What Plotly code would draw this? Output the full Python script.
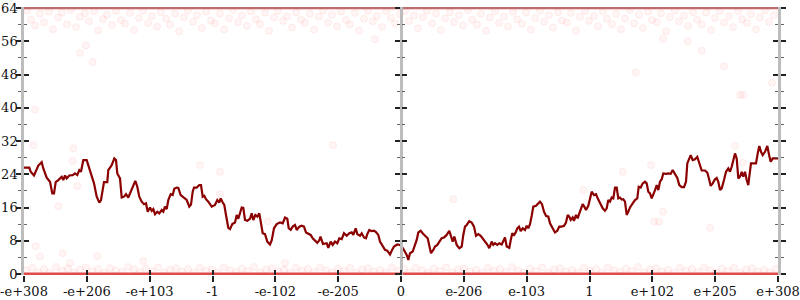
import plotly.graph_objects as go

# ---- data -------------------------------------------------------------
x_tick_labels = ["-e+308", "-e+206", "-e+103", "-1", "-e-102", "-e-205", "0",
                 "e-206", "e-103", "1", "e+102", "e+205", "e+308"]
x_tick_vals = [-377, -314.17, -251.33, -188.5, -125.67, -62.83, 0,
               62.83, 125.67, 188.5, 251.33, 314.17, 377]

line_x = [-377, -371.7, -370.3, -367, -362.7, -359.3, -357.7, -354.3, -351, -348.7, -347, -345.3,
          -342.7, -339.3, -337.7, -336, -334.3, -331.7, -328.3, -326, -323.7, -321.7, -320, -317.7,
          -314.3, -312.7, -310.3, -307, -304.3, -301.7, -300, -298.3, -297, -293.7, -292.7, -289.3,
          -286.7, -285, -283.7, -281, -279.3, -277, -275, -272.7, -270.3, -268.3, -265.7, -263.7,
          -261.7, -259.3, -257, -255, -253.3, -251, -249.3, -247.7, -246, -243.7, -241.7, -239.3,
          -237.7, -236, -234.3, -232.7, -230.3, -228.3, -226.7, -224.3, -222.7, -220.3, -217, -214.3,
          -211.7, -210, -208.3, -207, -204.3, -201.7, -200, -198.3, -196.7, -195, -192.7, -189.3,
          -186, -183.7, -181.7, -180.3, -178.3, -176.7, -175, -172.7, -171, -168.7, -166, -164.3,
          -162.7, -161, -159.3, -157.7, -156, -153.7, -151, -149.3, -147.7, -145.7, -143.7, -141.7,
          -140, -138.3, -136, -133.7, -131, -129.3, -127, -124.3, -121, -118.3, -116, -113.7,
          -112.3, -110.3, -108.3, -106, -104.3, -101.7, -99.3, -97, -95, -92.7, -90.3, -88.3,
          -86, -83.7, -81.7, -80.5, -78, -74.3, -72.7, -70.3, -68.3, -66, -63.7, -61.7,
          -59.3, -57, -54.3, -51.7, -49.3, -47.7, -45.3, -43.7, -41, -39.3, -37, -35,
          -33.7, -31.7, -29.3, -27, -25, -22.7, -21, -18.3, -16, -13.7, -11, -9.3,
          -7, -3.7, -1, 1.7, 4, 5.7, 7.3, 9, 11.7, 14, 15.7, 17.3,
          19.7, 22.3, 25, 26.7, 28.3, 30, 32.3, 34, 36.3, 38.3, 40.7, 43,
          45.7, 48.3, 50, 51.7, 53.3, 55.7, 58.3, 60.7, 62.3, 64, 65.7, 68.3,
          70.7, 73, 75, 77.3, 79.7, 81.7, 84, 86.3, 88.3, 90.7, 92.3, 94,
          96.3, 98.3, 100.7, 102.3, 104, 105.7, 108.3, 109.7, 111.3, 113, 114.7, 116.3,
          118, 119.7, 121.7, 124, 125.7, 127.3, 129, 130.7, 132.3, 135, 137.3, 139,
          141, 143, 145, 147.3, 149, 151.7, 154, 156.3, 158.3, 160.7, 163, 165,
          166.7, 168.3, 169.7, 171.7, 173, 175, 176.7, 178.3, 180, 181.7, 183.3, 185,
          187.3, 189, 190.7, 193, 195, 196.7, 199, 201.7, 204, 205.7, 207.3, 209,
          210.7, 212.3, 214, 215.7, 217.3, 219, 220.7, 222.3, 224, 225.7, 227.3, 229,
          231.7, 234, 236.3, 237.7, 239.7, 241.7, 244, 245.7, 247.3, 249, 250.7, 252.3,
          254, 255.7, 257.3, 259, 260.7, 262.3, 265, 267.3, 269.7, 271.7, 274, 276.3,
          278.3, 280.7, 283, 285, 286.3, 288.3, 289.7, 291.7, 294, 296.3, 298.3, 300.7,
          304, 306.3, 308.3, 309.7, 311.7, 314, 315.7, 317.3, 319, 320.7, 323, 325,
          327.3, 329, 330.7, 332.3, 334, 335.7, 337.3, 339, 340.7, 342.3, 344, 345.7,
          347.3, 348.3, 350, 352.3, 355, 356.7, 358.3, 360, 361.7, 364, 366.3, 368.3,
          369.7, 371.7, 374, 377]
line_y = [25.6, 25.6, 24.6, 23.7, 26.1, 26.9, 25.4, 23.2, 22.2, 19.4, 19.4, 22.1,
          22.6, 23.4, 22.6, 23.7, 23.0, 23.7, 23.8, 24.2, 23.8, 25.0, 24.6, 27.4,
          27.4, 26.1, 24.6, 21.8, 18.6, 17.2, 17.8, 20.6, 22.1, 22.1, 25.0, 26.2,
          27.8, 27.4, 24.2, 23.0, 18.4, 18.6, 19.2, 18.4, 19.8, 21.0, 22.4, 21.0,
          18.6, 17.4, 16.8, 17.0, 15.0, 16.0, 15.2, 15.6, 14.4, 15.0, 14.6, 15.4,
          15.0, 16.2, 15.6, 17.8, 19.2, 19.0, 20.5, 20.8, 20.7, 19.0, 18.4, 17.8,
          16.2, 16.7, 19.8, 20.8, 20.8, 21.4, 21.4, 18.6, 18.8, 18.0, 17.4, 16.2,
          16.6, 17.8, 17.2, 18.2, 17.2, 16.6, 14.2, 11.1, 10.8, 12.0, 12.4, 14.2,
          13.3, 14.6, 16.0, 15.9, 13.0, 12.8, 13.3, 14.6, 13.0, 14.2, 13.8, 14.6,
          12.6, 9.8, 9.6, 7.8, 7.1, 8.1, 11.0, 12.0, 12.4, 12.2, 13.6, 13.3,
          11.0, 10.6, 11.4, 11.8, 10.6, 11.4, 11.6, 11.4, 10.0, 9.6, 9.4, 8.6,
          8.1, 7.5, 8.1, 9.0, 7.2, 7.4, 6.3, 7.8, 7.0, 7.8, 7.4, 8.6,
          8.4, 9.8, 9.2, 9.8, 10.0, 9.4, 11.0, 9.6, 9.2, 9.8, 8.8, 8.6,
          9.6, 10.6, 10.3, 10.4, 10.1, 9.4, 7.8, 6.6, 5.8, 5.6, 4.7, 5.6,
          6.6, 7.1, 7.0, 6.3, 5.4, 4.6, 3.4, 5.0, 5.4, 7.0, 8.2, 10.0,
          10.4, 9.6, 9.0, 8.6, 6.8, 5.0, 5.8, 6.6, 7.0, 7.8, 8.6, 8.8,
          9.4, 10.4, 9.0, 7.8, 9.0, 7.0, 6.2, 6.6, 9.4, 11.4, 11.8, 12.7,
          12.4, 11.4, 9.2, 9.6, 9.2, 8.6, 7.8, 7.1, 6.2, 7.8, 7.0, 7.4,
          7.0, 7.4, 7.1, 7.8, 8.8, 6.6, 6.3, 8.1, 9.8, 9.4, 10.0, 11.0,
          11.4, 10.3, 11.0, 10.6, 11.6, 11.0, 12.0, 14.0, 16.2, 16.4, 17.0, 17.4,
          16.8, 15.0, 14.0, 13.8, 12.2, 11.0, 10.0, 10.4, 11.4, 11.4, 11.6, 12.4,
          14.2, 13.8, 13.0, 13.6, 12.8, 14.2, 13.4, 14.6, 15.8, 16.8, 16.2, 15.4,
          16.4, 18.2, 19.8, 19.0, 19.2, 18.2, 17.0, 15.8, 15.2, 15.8, 17.8, 17.4,
          18.4, 18.2, 20.8, 20.8, 18.2, 18.4, 17.9, 18.0, 17.4, 14.2, 15.0, 16.0,
          17.0, 17.8, 18.2, 21.0, 20.8, 21.8, 22.2, 21.8, 19.8, 19.4, 18.2, 19.0,
          20.2, 21.4, 20.2, 22.2, 22.8, 24.2, 24.1, 24.2, 24.1, 25.0, 23.9, 23.1,
          21.4, 20.9, 20.9, 22.2, 26.6, 27.8, 28.6, 27.4, 27.6, 28.2, 26.6, 24.9,
          24.9, 24.4, 22.6, 21.2, 21.8, 22.8, 23.1, 22.2, 20.2, 20.6, 22.6, 24.6,
          25.4, 24.6, 25.8, 27.8, 29.0, 27.8, 23.0, 23.4, 24.6, 23.4, 24.6, 22.6,
          21.4, 23.4, 26.6, 26.6, 26.6, 29.0, 30.8, 29.4, 28.6, 29.4, 30.8, 28.4,
          27.0, 27.8, 27.8, 27.8]

dots_top_x = [-374, -370, -366, -361, -357, -352, -348, -343, -339, -334, -330, -325, -321, -316,
              -312, -307, -303, -298, -294, -289, -285, -280, -276, -271, -267, -262, -258, -253,
              -249, -244, -240, -235, -231, -226, -222, -217, -213, -208, -204, -199, -195, -190,
              -186, -181, -177, -172, -168, -163, -159, -154, -150, -145, -141, -136, -132, -127,
              -123, -118, -114, -109, -105, -100, -96, -91, -87, -82, -78, -73, -69, -64, -60,
              -55, -51, -46, -42, -37, -33, -28, -24, -19, -15, -10, -6, -1,
              4, 8, 13, 17, 22, 26, 31, 35, 40, 44, 49, 53, 58, 62, 67, 71, 76, 80, 85, 89, 94,
              98, 103, 107, 112, 116, 121, 125, 130, 134, 139, 143, 148, 152, 157, 161, 166, 170,
              175, 179, 184, 188, 193, 197, 202, 206, 211, 215, 220, 224, 229, 233, 238, 242, 247,
              251, 256, 260, 265, 269, 274, 278, 283, 287, 292, 296, 301, 305, 310, 314, 319, 323,
              328, 332, 337, 341, 346, 350, 355, 359, 364, 368, 373]
dots_top_y = [63.4, 61.2, 59.8, 62.6, 60.5, 63.1, 58.9, 61.7, 62.9, 60.1, 63.5, 59.4, 61.9, 62.7,
              60.8, 63.2, 58.6, 61.3, 62.4, 59.9, 63.3, 61.1, 60.2, 62.8, 58.7, 61.6, 63.4, 60.4,
              62.1, 59.5, 63.0, 61.4, 60.0, 62.6, 58.4, 61.8, 63.4, 60.7, 62.3, 59.2, 63.1, 61.0,
              60.3, 62.7, 58.9, 61.5, 63.5, 60.6, 62.2, 59.7, 63.2, 61.3, 60.1, 62.9, 58.5, 61.7,
              63.3, 60.9, 62.0, 59.3, 63.0, 61.2, 60.4, 62.6, 58.8, 61.9, 63.4, 60.5, 62.4, 59.6, 63.1,
              61.1, 60.0, 62.8, 58.6, 61.4, 63.3, 60.8, 62.1, 59.4, 63.2, 61.6, 60.2, 62.5,
              63.3, 60.9, 62.2, 59.1, 61.8, 63.4, 60.3, 62.7, 58.7, 61.5, 63.0, 60.6, 62.3, 59.8, 63.5,
              61.2, 60.0, 62.6, 58.5, 61.7, 63.2, 60.4, 62.0, 59.5, 63.1, 61.3, 60.2, 62.9, 58.8,
              61.6, 63.4, 60.7, 62.3, 59.3, 63.0, 61.0, 60.5, 62.8, 58.6, 61.9, 63.3, 60.9, 62.1,
              59.6, 63.2, 61.4, 60.1, 62.6, 58.9, 61.5, 63.5, 60.3, 62.4, 59.2, 63.1, 61.1, 60.6,
              62.7, 58.4, 61.8, 63.4, 60.8, 62.2, 59.7, 63.0, 61.2, 60.0, 62.9, 58.7, 61.6, 63.3,
              60.5, 62.0, 59.4, 63.2, 61.3, 60.4, 62.5, 58.9, 61.7, 63.4, 60.7, 62.3]

dots_bottom_x = [-375, -369, -363, -357, -351, -345, -339, -333, -327, -321, -315, -309, -303, -297,
                 -291, -285, -279, -273, -267, -261, -255, -249, -243, -237, -231, -225, -219, -213,
                 -207, -201, -195, -189, -183, -177, -171, -165, -159, -153, -147, -141, -135, -129,
                 -123, -117, -111, -105, -99, -93, -87, -81, -75, -69, -63, -57, -51, -45, -39, -33,
                 -27, -21, -15, -9, -3,
                 3, 9, 15, 21, 27, 33, 39, 45, 51, 57, 63, 69, 75, 81, 87, 93, 99, 105, 111, 117,
                 123, 129, 135, 141, 147, 153, 159, 165, 171, 177, 183, 189, 195, 201, 207, 213, 219,
                 225, 231, 237, 243, 249, 255, 261, 267, 273, 279, 285, 291, 297, 303, 309, 315, 321,
                 327, 333, 339, 345, 351, 357, 363, 369, 375]
dots_bottom_y = [0.9, 1.5, 0.5, 1.2, 0.3, 1.7, 0.8, 1.3, 0.4, 1.0, 1.6, 0.6, 1.2, 0.3,
                 1.4, 0.9, 0.5, 1.7, 1.1, 0.4, 1.3, 0.7, 1.6, 0.3, 1.0, 1.4, 0.6, 1.2,
                 0.4, 1.5, 0.8, 1.1, 0.3, 1.6, 0.9, 0.5, 1.3, 0.7, 1.7, 0.4, 1.1, 1.4,
                 0.6, 1.0, 0.3, 1.5, 0.8, 1.2, 0.5, 1.6, 0.9, 0.4, 1.3, 0.7, 1.5, 0.3, 1.1, 1.4,
                 0.6, 1.0, 0.4, 1.6, 0.8,
                 1.2, 0.5, 1.5, 0.9, 0.3, 1.3, 0.7, 1.6, 0.4, 1.1, 1.4, 0.6, 1.0, 0.3, 1.5, 0.8,
                 1.2, 0.5, 1.7, 0.9, 0.4, 1.3, 0.7, 1.6, 0.3, 1.1, 1.4, 0.6, 1.0, 0.4, 1.5, 0.8,
                 1.2, 0.3, 1.6, 0.9, 0.5, 1.3, 0.7, 1.7, 0.4, 1.1, 1.4, 0.6, 1.0, 0.3, 1.5, 0.8,
                 1.2, 0.5, 1.6, 0.9, 0.4, 1.3, 0.7, 1.5, 0.3, 1.1, 1.4, 0.6, 1.0, 0.4, 1.3]

dots_other_x = [-365.3, -361, -342.7, -338.3, -331, -303.5, -257.8, 262, 253, 258, 309, 221.7,
                250, 334, 341.7, -366, -367.7, -327.7, -328.3, -323.7, -201, -181, -181,
                -133.3, -116, -68, 52.3, 182.3, -321, -308.3, -315, 234.7, 323, 300.7,
                371, 339, 342, 286.7, 262, -26]
dots_other_y = [6.7, 4.2, 16.3, 5.0, 2.6, 4.3, 3.1, 15.0, 12.6, 12.6, 11.1, 24.6,
                26.2, 30.8, 26.8, 39.6, 31.0, 30.2, 27.2, 21.2, 26.2, 24.6, 19.2,
                12.7, 2.6, 31.0, 18.0, 20.2, 53.2, 51.0, 55.0, 48.5, 50.0, 53.7,
                46.0, 43.1, 43.1, 56.0, 56.6, 56.5]

floor_value = [0, 0]
ceiling_value = [64, 64]
x_ends = [-377, 377]

# ---- figure -----------------------------------------------------------
FONT = dict(family="DejaVu Serif", size=13, color="#111")
YR = [-0.24, 64.24]
XR = [-377, 377]
dot_marker = dict(size=7, color="rgba(255,30,30,0.045)",
                  line=dict(color="rgba(255,30,30,0.065)", width=1))

fig = go.Figure()
fig.add_trace(go.Scatter(x=dots_top_x, y=dots_top_y, mode="markers", marker=dot_marker,
                         showlegend=False, hoverinfo="skip"))
fig.add_trace(go.Scatter(x=dots_bottom_x, y=dots_bottom_y, mode="markers", marker=dot_marker,
                         showlegend=False, hoverinfo="skip"))
fig.add_trace(go.Scatter(x=dots_other_x, y=dots_other_y, mode="markers", marker=dot_marker,
                         showlegend=False, hoverinfo="skip"))
fig.add_trace(go.Scatter(x=x_ends, y=ceiling_value, mode="lines",
                         line=dict(color="rgba(150,120,120,0.9)", width=2),
                         showlegend=False, hoverinfo="skip"))
fig.add_trace(go.Scatter(x=x_ends, y=ceiling_value, mode="lines",
                         line=dict(color="rgba(235,70,70,0.35)", width=3.5),
                         showlegend=False, hoverinfo="skip"))
fig.add_trace(go.Scatter(x=x_ends, y=floor_value, mode="lines",
                         line=dict(color="rgba(220,55,55,0.9)", width=3),
                         showlegend=False, hoverinfo="skip"))
fig.add_trace(go.Scatter(x=line_x, y=line_y, mode="lines",
                         line=dict(color="#8b0000", width=2.2),
                         showlegend=False, hoverinfo="skip"))

major_tick = dict(tickmode="linear", tick0=0, dtick=8, tickwidth=1.5, tickcolor="#222")
minor = dict(tickmode="linear", tick0=0, dtick=4, tickwidth=1, tickcolor="#666", ticklen=3)
axline = dict(showline=True, linecolor="#bdbdbd", linewidth=2.5)
common_y = dict(range=YR, showgrid=False, zeroline=False, fixedrange=True, automargin=False)

fig.update_layout(
    width=800, height=300,
    margin=dict(l=24, r=22, t=7, b=25, autoexpand=False),
    paper_bgcolor="white", plot_bgcolor="white",
    font=FONT,
    xaxis=dict(range=XR, tickmode="array", tickvals=x_tick_vals, ticktext=x_tick_labels,
               ticks="outside", ticklen=6, tickwidth=1.5, tickcolor="#222", automargin=False,
               showline=False, showgrid=False, zeroline=False, tickfont=FONT,
               ticklabelstandoff=-2),
    xaxis2=dict(range=XR, overlaying="x", anchor="y", side="bottom", tickmode="array",
                tickvals=x_tick_vals, ticks="inside", ticklen=5, tickwidth=1.5,
                tickcolor="#222", showticklabels=False, showline=False, showgrid=False,
                zeroline=False, automargin=False),
    yaxis=dict(**common_y, **major_tick, **axline, ticks="outside", ticklen=5,
               minor=dict(**minor, ticks="outside"), tickfont=FONT, ticklabelstandoff=-4),
    yaxis2=dict(**common_y, **major_tick, overlaying="y", anchor="x", side="left",
                ticks="inside", ticklen=5, minor=dict(**minor, ticks="inside"),
                showticklabels=False, showline=False),
    yaxis3=dict(**common_y, **major_tick, **axline, overlaying="y", anchor="free",
                position=0.5, side="left", ticks="outside", ticklen=5,
                minor=dict(**minor, ticks="outside"), showticklabels=False),
    yaxis4=dict(**common_y, **major_tick, overlaying="y", anchor="free", position=0.5,
                side="left", ticks="inside", ticklen=5,
                minor=dict(**minor, ticks="inside"), showticklabels=False, showline=False),
    yaxis5=dict(**common_y, **major_tick, **axline, overlaying="y", anchor="x",
                side="right", ticks="outside", ticklen=5,
                minor=dict(**minor, ticks="outside"), showticklabels=False),
    yaxis6=dict(**common_y, **major_tick, overlaying="y", anchor="x", side="right",
                ticks="inside", ticklen=5, minor=dict(**minor, ticks="inside"),
                showticklabels=False, showline=False),
)
# invisible traces so the overlay axes are rendered
for ya in ["y2", "y3", "y4", "y5", "y6"]:
    fig.add_trace(go.Scatter(x=[None], y=[None], yaxis=ya, showlegend=False, hoverinfo="skip"))
fig.add_trace(go.Scatter(x=[None], y=[None], xaxis="x2", showlegend=False, hoverinfo="skip"))

fig.write_html("out.html")
